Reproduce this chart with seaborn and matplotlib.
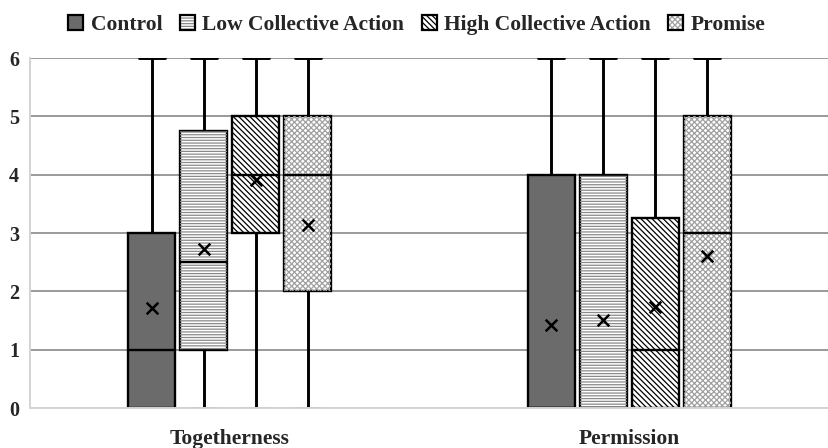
import matplotlib.patches as mpatches
import matplotlib.pyplot as plt
from matplotlib.legend_handler import HandlerTuple
import numpy as np
import pandas as pd
import seaborn as sns

# ==============================================================================
# DATA
# ==============================================================================

categories = ["Togetherness", "Permission"]
conditions = ["Control", "Low Collective Action", "High Collective Action", "Promise"]

whisker_lo = {"Togetherness": [0, 0, 0, 0], "Permission": [0, 0, 0, 0]}
q1 = {"Togetherness": [0, 1, 3, 2], "Permission": [0, 0, 0, 0]}
median = {"Togetherness": [1, 2.5, 4, 4], "Permission": [0, 0, 1, 3]}
q3 = {"Togetherness": [3, 4.75, 5, 5], "Permission": [4, 4, 3.26, 5]}
whisker_hi = {"Togetherness": [6, 6, 6, 6], "Permission": [6, 6, 6, 6]}
means = {"Togetherness": [1.72, 2.73, 3.91, 3.13], "Permission": [1.42, 1.51, 1.73, 2.61]}

# styling per condition
FACE = ["#6b6b6b", "white", "white", "white"]
HATCH = [None, "------", "\\\\\\\\\\\\", "xxxxxx"]
HATCH_COLOR = ["#6b6b6b", "#8a8a8a", "black", "#a0a0a0"]

# five values per box -> np.percentile gives exactly the quartiles above
rows = []
for cat in categories:
    for i, cond in enumerate(conditions):
        for v in (whisker_lo[cat][i], q1[cat][i], median[cat][i], q3[cat][i], whisker_hi[cat][i]):
            rows.append({"measure": cat, "condition": cond, "score": v})
df = pd.DataFrame(rows)

# ==============================================================================
# PLOT
# ==============================================================================

sns.set_style("white")
plt.rcParams["font.family"] = ["Liberation Serif", "DejaVu Serif"]
plt.rcParams["font.weight"] = "bold"
plt.rcParams["hatch.linewidth"] = 0.9

fig = plt.figure(figsize=(8.29, 4.48), dpi=100)
ax = fig.add_axes([30 / 829, 40 / 448, 799 / 829, 350 / 448])

sns.boxplot(
    data=df,
    x="measure",
    y="score",
    hue="condition",
    order=categories,
    hue_order=conditions,
    palette=FACE,
    saturation=1,
    width=0.52,
    gap=0.1,
    whis=np.inf,
    linewidth=1.7,
    linecolor="black",
    legend=False,
    ax=ax,
    capwidths=0.065,
    whiskerprops={"linewidth": 2.1},
    capprops={"linewidth": 2.1},
)

# boxes sorted left to right -> (category, condition)
boxes = sorted(ax.patches, key=lambda p: p.get_path().get_extents().x0)
centers = []
for k, box in enumerate(boxes):
    i = k % len(conditions)
    ext = box.get_path().get_extents()
    centers.append((ext.x0 + ext.x1) / 2)
    if HATCH[i]:
        overlay = mpatches.PathPatch(
            box.get_path(),
            transform=box.get_transform(),
            facecolor="none",
            edgecolor=HATCH_COLOR[i],
            hatch=HATCH[i],
            linewidth=0,
            zorder=2.05,
        )
        ax.add_patch(overlay)

mean_vals = [m for cat in categories for m in means[cat]]
ax.scatter(centers, mean_vals, marker="x", color="black", s=70, linewidths=1.8, zorder=3)

ax.set_xlim(-0.5, 1.5)
ax.set_ylim(0, 6)
ax.set_yticks(range(0, 7))
ax.yaxis.grid(True, color="#9a9a9a", linewidth=1.4)
ax.set_axisbelow(True)
ax.set_xlabel("")
ax.set_ylabel("")
ax.tick_params(axis="y", length=0, pad=8, labelsize=14.5)
ax.tick_params(axis="x", length=0, pad=15, labelsize=15.5)
for lab in ax.get_xticklabels() + ax.get_yticklabels():
    lab.set_fontweight("bold")

for side in ["top", "right"]:
    ax.spines[side].set_visible(False)
for side in ["left", "bottom"]:
    ax.spines[side].set_color("#d4d4d4")
    ax.spines[side].set_linewidth(1.4)

handles = []
for i in range(len(conditions)):
    fill = mpatches.Patch(facecolor=FACE[i], edgecolor=HATCH_COLOR[i], hatch=HATCH[i], linewidth=0)
    edge = mpatches.Patch(facecolor="none", edgecolor="black", linewidth=1.6)
    handles.append((fill, edge))

fig.legend(
    handles=handles,
    labels=conditions,
    handler_map={tuple: HandlerTuple(ndivide=1)},
    loc="upper center",
    bbox_to_anchor=(0.503, 1.01),
    ncol=4,
    frameon=False,
    prop={"family": "Liberation Serif", "weight": "bold", "size": 15.5},
    handlelength=0.7,
    handleheight=0.7,
    handletextpad=0.35,
    columnspacing=0.8,
)

fig.savefig("out.png", dpi=100)
